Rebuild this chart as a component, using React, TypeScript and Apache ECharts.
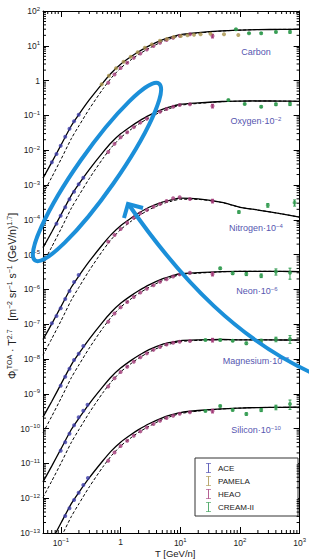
import React, { useEffect, useRef } from 'react';
import * as echarts from 'echarts';

// ---------- model curves (T grid, GeV/n) ----------
const T_GRID = [0.05, 0.07, 0.1, 0.15, 0.2, 0.3, 0.5, 0.7, 1, 1.5, 2, 3, 5, 7, 10, 20, 50, 100, 200, 500, 1000];

const carbonSolid = [1.58e-3, 4.47e-3, 1.40e-2, 5.13e-2, 0.107, 0.282, 0.851, 1.66, 2.95, 4.90, 6.76, 10.0, 14.8, 17.8, 20.9, 24.0, 26.9, 28.2, 29.2, 29.6, 29.9];
const carbonDashed = [5.62e-4, 1.66e-3, 5.43e-3, 2.19e-2, 5.01e-2, 0.155, 0.562, 1.20, 2.29, 3.98, 5.62, 8.51, 13.2, 16.2, 19.5, 23.2, 26.6, 28.2, 29.2, 29.6, 29.9];
const oxygenSolid = [1.58e-5, 4.47e-5, 1.40e-4, 5.13e-4, 1.07e-3, 2.82e-3, 8.51e-3, 1.66e-2, 2.95e-2, 4.90e-2, 6.76e-2, 0.100, 0.148, 0.178, 0.209, 0.229, 0.251, 0.257, 0.260, 0.258, 0.254];
const oxygenDashed = [5.62e-6, 1.66e-5, 5.43e-5, 2.19e-4, 5.01e-4, 1.55e-3, 5.62e-3, 1.20e-2, 2.29e-2, 3.98e-2, 5.62e-2, 8.51e-2, 0.132, 0.162, 0.195, 0.221, 0.248, 0.257, 0.260, 0.258, 0.254];
const nitrogenSolid = [3.62e-8, 1.02e-7, 3.21e-7, 1.17e-6, 2.45e-6, 6.46e-6, 1.95e-5, 3.80e-5, 6.76e-5, 1.12e-4, 1.55e-4, 2.29e-4, 3.24e-4, 3.72e-4, 4.17e-4, 3.98e-4, 3.16e-4, 2.29e-4, 1.91e-4, 1.48e-4, 1.19e-4];
const nitrogenDashed = [1.29e-8, 3.80e-8, 1.24e-7, 5.02e-7, 1.15e-6, 3.55e-6, 1.29e-5, 2.75e-5, 5.24e-5, 9.11e-5, 1.29e-4, 1.95e-4, 2.88e-4, 3.39e-4, 3.89e-4, 3.85e-4, 3.13e-4, 2.29e-4, 1.91e-4, 1.48e-4, 1.19e-4];
const neonSolid = [2.13e-10, 6.03e-10, 1.89e-9, 6.92e-9, 1.44e-8, 3.80e-8, 1.15e-7, 2.24e-7, 3.98e-7, 6.61e-7, 9.12e-7, 1.35e-6, 2.00e-6, 2.40e-6, 2.82e-6, 3.02e-6, 3.24e-6, 3.31e-6, 3.31e-6, 3.29e-6, 3.24e-6];
const neonDashed = [7.58e-11, 2.24e-10, 7.33e-10, 2.95e-9, 6.76e-9, 2.09e-8, 7.58e-8, 1.62e-7, 3.09e-7, 5.37e-7, 7.58e-7, 1.15e-6, 1.78e-6, 2.19e-6, 2.63e-6, 2.92e-6, 3.20e-6, 3.31e-6, 3.31e-6, 3.29e-6, 3.24e-6];
const magnesiumSolid = [2.94e-12, 8.32e-12, 2.61e-11, 9.55e-11, 1.99e-10, 5.25e-10, 1.58e-9, 3.09e-9, 5.49e-9, 9.12e-9, 1.26e-8, 1.86e-8, 2.63e-8, 3.02e-8, 3.39e-8, 3.55e-8, 3.63e-8, 3.55e-8, 3.55e-8, 3.52e-8, 3.51e-8];
const magnesiumDashed = [1.05e-12, 3.09e-12, 1.01e-11, 4.08e-11, 9.33e-11, 2.89e-10, 1.05e-9, 2.23e-9, 4.26e-9, 7.41e-9, 1.05e-8, 1.58e-8, 2.34e-8, 2.75e-8, 3.16e-8, 3.43e-8, 3.59e-8, 3.55e-8, 3.55e-8, 3.52e-8, 3.51e-8];
const siliconSolid = [2.18e-14, 6.17e-14, 1.93e-13, 7.08e-13, 1.48e-12, 3.89e-12, 1.17e-11, 2.29e-11, 4.07e-11, 6.76e-11, 9.33e-11, 1.38e-10, 2.04e-10, 2.46e-10, 2.88e-10, 3.31e-10, 3.71e-10, 3.89e-10, 4.03e-10, 4.08e-10, 4.13e-10];
const siliconDashed = [7.76e-15, 2.29e-14, 7.49e-14, 3.02e-13, 6.91e-13, 2.14e-12, 7.76e-12, 1.66e-11, 3.16e-11, 5.49e-11, 7.76e-11, 1.17e-10, 1.82e-10, 2.24e-10, 2.69e-10, 3.20e-10, 3.67e-10, 3.89e-10, 4.03e-10, 4.08e-10, 4.13e-10];

// ---------- ACE ----------
const aceCarbonT = [0.0703, 0.0842, 0.099, 0.118, 0.139, 0.166, 0.198];
const aceCarbon = [4.49e-3, 7.78e-3, 1.35e-2, 2.45e-2, 4.15e-2, 6.8e-2, 0.105];
const aceOxygenT = [0.0841, 0.0989, 0.118, 0.139, 0.166, 0.198, 0.237];
const aceOxygen = [7.73e-5, 1.31e-4, 2.29e-4, 3.88e-4, 6.41e-4, 1.05e-3, 1.62e-3];
const aceNitrogenT = [0.0703, 0.0842, 0.099, 0.118, 0.139, 0.166, 0.198];
const aceNitrogen = [1.06e-7, 1.72e-7, 2.86e-7, 5.30e-7, 8.99e-7, 1.63e-6, 2.59e-6];
const aceNeonT = [0.099, 0.118, 0.139, 0.166, 0.198, 0.237];
const aceNeon = [1.71e-9, 3.10e-9, 5.26e-9, 9.35e-9, 1.42e-8, 2.37e-8];
const aceMagnesiumT = [0.099, 0.118, 0.139, 0.166, 0.198, 0.237, 0.279];
const aceMagnesium = [2.32e-11, 4.04e-11, 7.13e-11, 1.24e-10, 2.11e-10, 3.27e-10, 4.86e-10];
const aceSiliconT = [0.118, 0.139, 0.166, 0.198, 0.237, 0.283];
const aceSilicon = [3.08e-13, 5.13e-13, 8.87e-13, 1.44e-12, 2.39e-12, 3.80e-12];

// ---------- PAMELA (carbon) ----------
const pamelaCarbonT = [0.481, 0.636, 0.838, 1.12, 1.48, 1.93, 2.55, 3.33, 4.56, 5.96, 7.76, 10.2, 13.2, 17.0, 21.9, 32, 54, 94];
const pamelaCarbon = [0.78, 1.38, 2.25, 3.49, 4.86, 6.5, 8.8, 11.0, 14.0, 15.7, 17.9, 19.1, 20.0, 20.9, 21.4, 22.3, 21.4, 20.4];

// ---------- HEAO ----------
const heaoT = [0.62, 0.79, 1.0, 1.29, 1.66, 2.14, 2.75, 3.55, 4.57, 5.89, 7.59, 9.77, 14.5, 34.7];
const heaoCarbon = [0.87, 1.50, 2.29, 3.24, 4.50, 6.03, 7.78, 9.82, 12.2, 14.6, 16.9, 19.3, 21.4, 19.1];
const heaoOxygen = [8.9e-3, 1.52e-2, 2.35e-2, 3.3e-2, 4.6e-2, 6.2e-2, 8.0e-2, 0.103, 0.128, 0.153, 0.178, 0.199, 0.208, 0.186];
const heaoNitrogen = [2.35e-5, 3.66e-5, 5.44e-5, 8.26e-5, 1.15e-4, 1.54e-4, 1.91e-4, 2.38e-4, 2.84e-4, 3.47e-4, 4.15e-4, 4.44e-4, 3.96e-4, 3.47e-4];
const heaoNeon = [1.17e-7, 2.02e-7, 3.09e-7, 4.37e-7, 6.07e-7, 8.13e-7, 1.05e-6, 1.32e-6, 1.65e-6, 1.97e-6, 2.35e-6, 2.70e-6, 3.0e-6, 2.77e-6];
const heaoMagnesium = [1.62e-9, 2.79e-9, 4.26e-9, 6.03e-9, 8.38e-9, 1.12e-8, 1.45e-8, 1.83e-8, 2.2e-8, 2.6e-8, 2.95e-8, 3.13e-8, 3.31e-8, 3.5e-8];
const heaoSilicon = [1.20e-11, 2.07e-11, 3.16e-11, 4.47e-11, 6.21e-11, 8.32e-11, 1.07e-10, 1.36e-10, 1.68e-10, 2.01e-10, 2.33e-10, 2.66e-10, 2.95e-10, 3.2e-10];
const heaoRelErr = [0, 0, 0, 0, 0, 0, 0, 0, 0, 0, 0, 0, 0, 0.12];

// ---------- CREAM-II ----------
const creamCarbonT = [85.7, 142, 227, 401, 690];
const creamCarbon = [29.8, 22.9, 22.9, 25.0, 25.0];
const creamCarbonErr = [0.03, 0.04, 0.05, 0.06, 0.08];
const creamOxygenT = [64, 120, 227, 401, 690];
const creamOxygen = [0.277, 0.213, 0.178, 0.208, 0.213];
const creamOxygenErr = [0.04, 0.05, 0.06, 0.08, 0.1];
const creamNitrogenT = [96, 293, 824];
const creamNitrogen = [1.67e-4, 2.61e-4, 3.10e-4];
const creamNitrogenErr = [0.08, 0.12, 0.2];
const creamNeonT = [46.7, 75.5, 128, 227, 401, 690];
const creamNeon = [4.04e-6, 2.90e-6, 2.77e-6, 2.48e-6, 3.23e-6, 3.02e-6];
const creamNeonErr = [0.07, 0.08, 0.1, 0.12, 0.2, 0.35];
const creamMagnesiumT = [26.4, 46.7, 75.5, 128, 227, 401, 690];
const creamMagnesium = [3.52e-8, 3.52e-8, 3.36e-8, 2.82e-8, 3.36e-8, 3.68e-8, 3.76e-8];
const creamMagnesiumErr = [0.05, 0.06, 0.06, 0.08, 0.1, 0.15, 0.25];
const creamSiliconT = [26.4, 46.7, 75.5, 128, 227, 401, 690];
const creamSilicon = [3.21e-10, 4.46e-10, 3.42e-10, 2.63e-10, 3.42e-10, 4.09e-10, 5.09e-10];
const creamSiliconErr = [0.05, 0.06, 0.06, 0.08, 0.1, 0.15, 0.3];

const LEGEND_NAMES = ['ACE', 'PAMELA', 'HEAO', 'CREAM-II'];
const COLORS: Record<string, string> = { ACE: '#3d3daa', PAMELA: '#a8924a', HEAO: '#a33a78', 'CREAM-II': '#2f9a4e' };

const X_MIN = 0.05, X_MAX = 1000, Y_MIN = 1e-13, Y_MAX = 1e2;
const FONT = 'Liberation Sans, Arial, sans-serif';
const BLUE = '#1b8fd9';
const IBEAM = 'path://M0,0H6V1H3.6V11H6V12H0V11H2.4V1H0Z';

const zipPts = (xs: number[], ys: number[]) => xs.map((x, i) => [x, ys[i]]);

function curve(name: string, ys: number[], dashed: boolean) {
  return {
    type: 'line', name, data: zipPts(T_GRID, ys), showSymbol: false, smooth: 0.25, silent: true,
    lineStyle: { color: '#000', width: dashed ? 1 : 1.3, type: dashed ? [3, 2] : 'solid' }, z: 2,
  };
}
function pts(name: string, xs: number[], ys: number[]) {
  return { type: 'scatter', name, data: zipPts(xs, ys), symbol: 'circle', symbolSize: 4, itemStyle: { color: COLORS[name] }, z: 4, silent: true };
}
function errBars(key: string, xs: number[], ys: number[], rel: number[]) {
  const color = COLORS[key];
  const data = xs.map((x, i) => [x, ys[i] * (1 - rel[i]), ys[i] * (1 + rel[i])]).filter((d, i) => rel[i] > 0);
  return {
    type: 'custom', name: key + '-err', data, z: 3, silent: true,
    encode: { x: 0, y: [1, 2] },
    renderItem: (params: any, api: any) => {
      const p1 = api.coord([api.value(0), api.value(1)]);
      const p2 = api.coord([api.value(0), api.value(2)]);
      const st = { stroke: color, lineWidth: 1 };
      return {
        type: 'group', children: [
          { type: 'line', shape: { x1: p1[0], y1: p1[1], x2: p2[0], y2: p2[1] }, style: st },
          { type: 'line', shape: { x1: p1[0] - 1.5, y1: p1[1], x2: p1[0] + 1.5, y2: p1[1] }, style: st },
          { type: 'line', shape: { x1: p2[0] - 1.5, y1: p2[1], x2: p2[0] + 1.5, y2: p2[1] }, style: st },
        ],
      };
    },
  };
}

// minor tick positions of the log axes (2..9 x 10^k)
const minorX: number[][] = [];
for (let k = -2; k <= 2; k++) for (let m = 2; m <= 9; m++) { const v = m * Math.pow(10, k); if (v > X_MIN && v < X_MAX) minorX.push([v, 1]); }
const minorY: number[][] = [];
for (let k = -13; k <= 1; k++) for (let m = 2; m <= 9; m++) minorY.push([1, m * Math.pow(10, k)]);

const tickSeriesX = {
  type: 'custom', name: 'minorX', data: minorX, silent: true, z: 5, clip: false,
  renderItem: (params: any, api: any) => {
    const b = api.coord([api.value(0), Y_MIN]);
    const t = api.coord([api.value(0), Y_MAX]);
    const st = { stroke: '#000', lineWidth: 1 };
    return { type: 'group', children: [
      { type: 'line', shape: { x1: b[0], y1: b[1], x2: b[0], y2: b[1] - 3 }, style: st },
      { type: 'line', shape: { x1: t[0], y1: t[1], x2: t[0], y2: t[1] + 3 }, style: st },
    ] };
  },
};
const tickSeriesY = {
  type: 'custom', name: 'minorY', data: minorY, silent: true, z: 5, clip: false,
  renderItem: (params: any, api: any) => {
    const l = api.coord([X_MIN, api.value(1)]);
    const r = api.coord([X_MAX, api.value(1)]);
    const st = { stroke: '#000', lineWidth: 1 };
    return { type: 'group', children: [
      { type: 'line', shape: { x1: l[0], y1: l[1], x2: l[0] + 3, y2: l[1] }, style: st },
      { type: 'line', shape: { x1: r[0], y1: r[1], x2: r[0] - 3, y2: r[1] }, style: st },
    ] };
  },
};

const powLabel = (v: number) => {
  const lg = Math.log10(v);
  const e = Math.round(lg);
  if (Math.abs(lg - e) > 1e-6) return '';
  if (e === 0) return '1';
  return '10{s|' + String(e).replace('-', '\u2212') + '}';
};
const labelRich = { s: { fontSize: 6, verticalAlign: 'top', fontFamily: FONT, color: '#222', padding: [0, 0, 5, 0] } };

function elementLabel(name: string, exp: string, x: number, y: number) {
  return {
    type: 'text', x, y, z: 50,
    style: {
      text: exp ? `${name}\u00b710{s|${exp}}` : name,
      fontSize: 9, fontFamily: FONT, fill: '#5656b0', align: 'center', verticalAlign: 'middle',
      rich: { s: { fontSize: 6, fontFamily: FONT, fill: '#5656b0', verticalAlign: 'top', padding: [0, 0, 5, 0] } },
    },
  };
}

export default function App() {
  const ref = useRef<HTMLDivElement>(null);
  useEffect(() => {
    const chart = echarts.init(ref.current!, null, { renderer: 'svg' });
    const series: any[] = [
      curve('c-s', carbonSolid, false), curve('c-d', carbonDashed, true),
      curve('o-s', oxygenSolid, false), curve('o-d', oxygenDashed, true),
      curve('n-s', nitrogenSolid, false), curve('n-d', nitrogenDashed, true),
      curve('ne-s', neonSolid, false), curve('ne-d', neonDashed, true),
      curve('mg-s', magnesiumSolid, false), curve('mg-d', magnesiumDashed, true),
      curve('si-s', siliconSolid, false), curve('si-d', siliconDashed, true),
      pts('ACE', aceCarbonT, aceCarbon), pts('ACE', aceOxygenT, aceOxygen), pts('ACE', aceNitrogenT, aceNitrogen),
      pts('ACE', aceNeonT, aceNeon), pts('ACE', aceMagnesiumT, aceMagnesium), pts('ACE', aceSiliconT, aceSilicon),
      pts('HEAO', heaoT, heaoCarbon), pts('HEAO', heaoT, heaoOxygen), pts('HEAO', heaoT, heaoNitrogen),
      pts('HEAO', heaoT, heaoNeon), pts('HEAO', heaoT, heaoMagnesium), pts('HEAO', heaoT, heaoSilicon),
      errBars('HEAO', heaoT, heaoCarbon, heaoRelErr), errBars('HEAO', heaoT, heaoOxygen, heaoRelErr),
      errBars('HEAO', heaoT, heaoNitrogen, heaoRelErr), errBars('HEAO', heaoT, heaoNeon, heaoRelErr),
      errBars('HEAO', heaoT, heaoMagnesium, heaoRelErr), errBars('HEAO', heaoT, heaoSilicon, heaoRelErr),
      pts('PAMELA', pamelaCarbonT, pamelaCarbon),
      pts('CREAM-II', creamCarbonT, creamCarbon), pts('CREAM-II', creamOxygenT, creamOxygen),
      pts('CREAM-II', creamNitrogenT, creamNitrogen), pts('CREAM-II', creamNeonT, creamNeon),
      pts('CREAM-II', creamMagnesiumT, creamMagnesium), pts('CREAM-II', creamSiliconT, creamSilicon),
      errBars('CREAM-II', creamCarbonT, creamCarbon, creamCarbonErr), errBars('CREAM-II', creamOxygenT, creamOxygen, creamOxygenErr),
      errBars('CREAM-II', creamNitrogenT, creamNitrogen, creamNitrogenErr), errBars('CREAM-II', creamNeonT, creamNeon, creamNeonErr),
      errBars('CREAM-II', creamMagnesiumT, creamMagnesium, creamMagnesiumErr), errBars('CREAM-II', creamSiliconT, creamSilicon, creamSiliconErr),
      tickSeriesX, tickSeriesY,
    ];
    const axisCommon = { type: 'log', logBase: 10, axisLine: { show: true, lineStyle: { color: '#000', width: 1 } }, splitLine: { show: false } };
    chart.setOption({
      animation: false,
      backgroundColor: '#fff',
      grid: { left: 43, right: 5, top: 11, bottom: 26, containLabel: false },
      xAxis: [
        { ...axisCommon, position: 'bottom', min: X_MIN, max: X_MAX, splitNumber: 5,
          axisTick: { show: true, inside: true, length: 6, lineStyle: { color: '#000' } },
          axisLabel: { formatter: powLabel, fontSize: 8.5, color: '#222', fontFamily: FONT, margin: 4, rich: labelRich, showMinLabel: true, showMaxLabel: true, hideOverlap: false } },
        { ...axisCommon, position: 'top', min: X_MIN, max: X_MAX, splitNumber: 5,
          axisTick: { show: true, inside: true, length: 6, lineStyle: { color: '#000' } }, axisLabel: { show: false } },
      ],
      yAxis: [
        { ...axisCommon, position: 'left', min: Y_MIN, max: Y_MAX, interval: 1,
          axisTick: { show: true, inside: true, length: 6, lineStyle: { color: '#000' } },
          axisLabel: { formatter: powLabel, fontSize: 8.5, color: '#222', fontFamily: FONT, margin: 3, rich: labelRich, showMinLabel: true, showMaxLabel: true, hideOverlap: false } },
        { ...axisCommon, position: 'right', min: Y_MIN, max: Y_MAX, interval: 1,
          axisTick: { show: true, inside: true, length: 6, lineStyle: { color: '#000' } }, axisLabel: { show: false } },
      ],
      legend: {
        data: LEGEND_NAMES.map((n) => ({ name: n, icon: IBEAM, itemStyle: { color: COLORS[n] } })),
        orient: 'vertical', left: 195, top: 458, padding: [5, 44, 4, 11], itemGap: 3, itemWidth: 5, itemHeight: 10,
        borderColor: '#333', borderWidth: 1, backgroundColor: '#fff', selectedMode: false,
        textStyle: { fontSize: 8, color: '#222', fontFamily: FONT, padding: [0, 0, 0, 2] },
      },
      graphic: [
        elementLabel('Carbon', '', 256, 52),
        elementLabel('Oxygen', '\u22122', 256, 121),
        elementLabel('Nitrogen', '\u22124', 256, 228),
        elementLabel('Neon', '\u22126', 257, 291),
        elementLabel('Magnesium', '\u22128', 256, 361),
        elementLabel('Silicon', '\u221210', 256, 430),
        {
          type: 'text', x: 155, y: 553, z: 50,
          style: { text: 'T [GeV/n]', fontSize: 9.5, fontFamily: FONT, fill: '#222', align: 'left', verticalAlign: 'middle' },
        },
        {
          type: 'text', x: 12, y: 296, rotation: Math.PI / 2, z: 50,
          style: {
            text: '\u03a6{sub|i}{sup|TOA} \u00b7 T{sup|2.7}   [m{sup|\u22122} sr{sup|\u22121} s{sup|\u22121} (GeV/n){sup|1.7}]',
            fontSize: 10.5, fontFamily: FONT, fill: '#222', align: 'center', verticalAlign: 'middle',
            rich: {
              sup: { fontSize: 7, fontFamily: FONT, fill: '#222', verticalAlign: 'top', padding: [0, 0, 6, 0] },
              sub: { fontSize: 7, fontFamily: FONT, fill: '#222', verticalAlign: 'bottom', padding: [5, 0, 0, 0] },
            },
          },
        },
        {
          type: 'ellipse', x: 97, y: 172, rotation: 0.96, z: 100, silent: true,
          shape: { cx: 0, cy: 0, rx: 108, ry: 20 },
          style: { fill: 'none', stroke: BLUE, lineWidth: 4 },
        },
        {
          type: 'bezierCurve', z: 100, silent: true,
          shape: { x1: 312, y1: 373, cpx1: 240, cpy1: 340, cpx2: 183, cpy2: 283, x2: 129, y2: 205 },
          style: { fill: 'none', stroke: BLUE, lineWidth: 4 },
        },
        {
          type: 'polyline', z: 100, silent: true,
          shape: { points: [[124, 218], [128, 204], [143, 208]] },
          style: { fill: 'none', stroke: BLUE, lineWidth: 4, lineJoin: 'miter' },
        },
      ],
      series,
    });
    return () => chart.dispose();
  }, []);
  return <div ref={ref} style={{ position: 'absolute', left: 0, top: 0, width: 309, height: 559, background: '#fff' }} />;
}
